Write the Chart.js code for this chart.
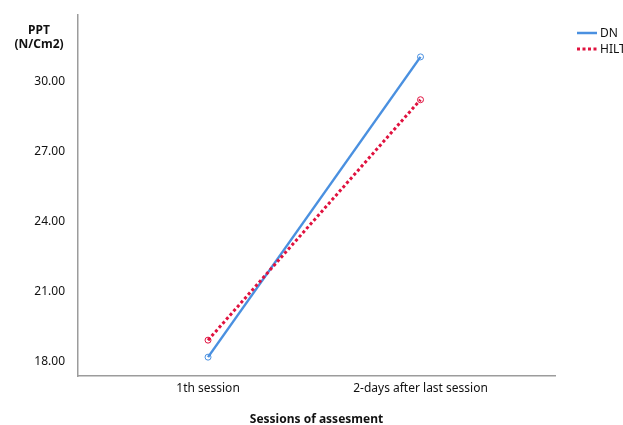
<!DOCTYPE html>
<html>
<head>
<meta charset="utf-8">
<script src="https://cdn.jsdelivr.net/npm/chart.js@4"></script>
<style>
html,body{margin:0;padding:0;background:#fff;}
#wrap{width:623px;height:425px;position:relative;}
</style>
</head>
<body>
<div id="wrap"><canvas id="c" width="623" height="425"></canvas></div>
<script>
const categories = ["1th session", "2-days after last session"];
const dnValues = [18.17, 31.07];
const hiltValues = [18.90, 29.23];
const yTickValues = [18, 21, 24, 27, 30];
const seriesNames = ["DN", "HILT"];
const yTitleLines = ["PPT", "(N/Cm2)"];
const xTitle = "Sessions of assesment";

const FONT = "'Noto Sans', 'Open Sans', sans-serif";
const BLUE = '#4a90e0';
const RED = '#e0123f';

const legendPlugin = {
  id: 'customDecor',
  afterDraw(chart) {
    const ctx = chart.ctx;
    ctx.save();
    // y-axis title
    ctx.fillStyle = '#111';
    ctx.font = 'bold 12px ' + FONT;
    ctx.textAlign = 'center';
    ctx.textBaseline = 'middle';
    ctx.fillText(yTitleLines[0], 39, 31);
    ctx.fillText(yTitleLines[1], 39, 45);
    // legend
    const items = [
      {name: seriesNames[0], color: BLUE, dash: [], width: 2.5},
      {name: seriesNames[1], color: RED, dash: [3, 2.5], width: 3}
    ];
    items.forEach((it, i) => {
      const y = 33 + i * 16;
      ctx.beginPath();
      ctx.setLineDash(it.dash);
      ctx.strokeStyle = it.color;
      ctx.lineWidth = it.width;
      ctx.moveTo(577, y);
      ctx.lineTo(597, y);
      ctx.stroke();
      ctx.setLineDash([]);
      ctx.fillStyle = '#111';
      ctx.font = '12px ' + FONT;
      ctx.textAlign = 'left';
      ctx.fillText(it.name, 600, y + 1);
    });
    ctx.restore();
  }
};

const toPoints = arr => arr.map((v, i) => ({x: i, y: v}));

new Chart(document.getElementById('c'), {
  type: 'line',
  data: {
    datasets: [
      {
        label: seriesNames[0],
        data: toPoints(dnValues),
        borderColor: BLUE,
        backgroundColor: '#fff',
        borderWidth: 2.5,
        pointRadius: 3,
        pointBorderWidth: 1,
        pointBorderColor: BLUE,
        pointBackgroundColor: 'rgba(255,255,255,0)',
        order: 1
      },
      {
        label: seriesNames[1],
        data: toPoints(hiltValues),
        borderColor: RED,
        backgroundColor: '#fff',
        borderWidth: 3,
        borderDash: [3, 2.5],
        pointRadius: 3,
        pointBorderWidth: 1,
        pointBorderColor: RED,
        pointBackgroundColor: 'rgba(255,255,255,0)',
        order: 0
      }
    ]
  },
  options: {
    responsive: false,
    animation: false,
    layout: {padding: {top: 15, right: 68, left: 0, bottom: 0}},
    plugins: {legend: {display: false}, tooltip: {enabled: false}},
    scales: {
      x: {
        type: 'linear',
        min: -0.612,
        max: 1.633,
        grid: {display: false},
        border: {display: true, color: '#9c9c9c', width: 1.5},
        afterBuildTicks: s => { s.ticks = categories.map((c, i) => ({value: i})); },
        afterFit: s => { s.height = 49; },
        ticks: {
          padding: -3,
          color: '#111',
          font: {family: FONT, size: 12},
          maxRotation: 0,
          callback: v => categories[v]
        },
        title: {
          display: true,
          text: xTitle,
          color: '#111',
          font: {family: FONT, size: 12, weight: 'bold'},
          padding: {top: 0, bottom: -2}
        }
      },
      y: {
        min: 17.36,
        max: 32.87,
        grid: {display: false},
        border: {display: true, color: '#9c9c9c', width: 1.5},
        afterBuildTicks: s => { s.ticks = yTickValues.map(v => ({value: v})); },
        afterFit: s => { s.width = 78; },
        ticks: {
          padding: 5,
          color: '#111',
          font: {family: FONT, size: 12},
          callback: v => Number(v).toFixed(2)
        }
      }
    }
  },
  plugins: [legendPlugin]
});
</script>
</body>
</html>
